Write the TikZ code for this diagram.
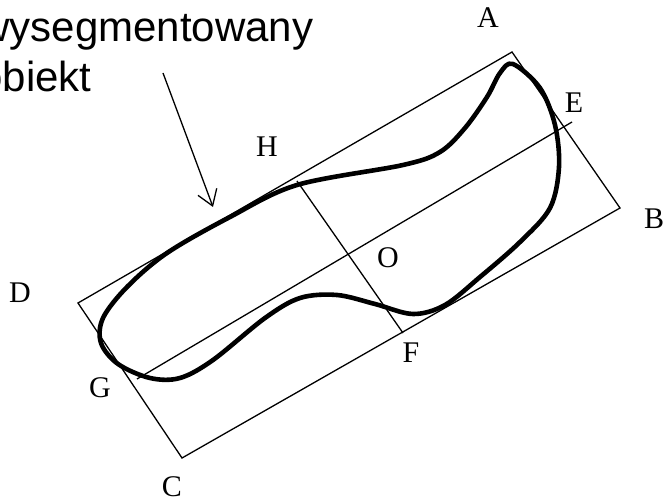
\documentclass[tikz,border=0pt]{standalone}
\usepackage{fontspec}
\setmainfont{Liberation Serif}
\newfontfamily\arialfont{Liberation Sans}
\usepackage{tikz}
\usetikzlibrary{calc, positioning, arrows.meta}

\tikzset{
  thinline/.style={line width=0.65pt},
  blobline/.style={line width=2.3pt, line join=round},
  ptlabel/.style={font=\fontsize{15}{18}\selectfont, inner sep=0pt}
}

\begin{document}
\begin{tikzpicture}[x=0.5pt, y=-0.5pt]
  \useasboundingbox (0,0) rectangle (663,501);
  % bounding box corners and axis ends
  \coordinate (pA) at (512,52);
  \coordinate (pB) at (620,208);
  \coordinate (pC) at (182,458);
  \coordinate (pD) at (78,303);
  \coordinate (pE) at (572,122);
  \coordinate (pG) at (137,379);
  \coordinate (pH) at (297,181);
  \coordinate (pF) at (403,333);

  \draw[thinline] (pA) -- (pB) -- (pC) -- (pD) -- cycle;
  \draw[thinline] (pG) -- (pE);
  \draw[thinline] (pH) -- (pF);

  % segmented object outline
  \draw[blobline] plot[smooth cycle, tension=0.55] coordinates {
    (513,64) (540,88) (555,125) (559,167) (550,208) (520,242) (480,277)
    (445,305) (413,314) (375,304) (337,295) (300,298) (265,318) (213,360)
    (180,378) (150,378) (118,364) (101,343) (103,318) (127,287) (167,253)
    (230,217) (297,185) (403,165) (440,152) (465,128) (487,97) (500,73)};

  % caption with arrow
  \node[anchor=base west, align=left, inner sep=0pt,
        font=\arialfont\fontsize{21}{25}\selectfont] (caption) at (-21,92)
        {wysegmentowany\\obiekt};
  \coordinate (arrtail) at (163,73);
  \coordinate (arrtip) at (213,207);
  \draw[thinline, -{Straight Barb[length=7.5pt, width=10pt]}] (arrtail) -- (arrtip);

  % point labels
  \node[ptlabel] (labA) at (488,18) {A};
  \node[ptlabel] (labB) at (654,219) {B};
  \node[ptlabel] (labC) at (172,487) {C};
  \node[ptlabel] (labD) at (20,293) {D};
  \node[ptlabel] (labE) at (574,103) {E};
  \node[ptlabel] (labF) at (411,353) {F};
  \node[ptlabel] (labG) at (100,388) {G};
  \node[ptlabel] (labH) at (267,147) {H};
  \node[ptlabel] (labO) at (388,258) {O};
\end{tikzpicture}
\end{document}
